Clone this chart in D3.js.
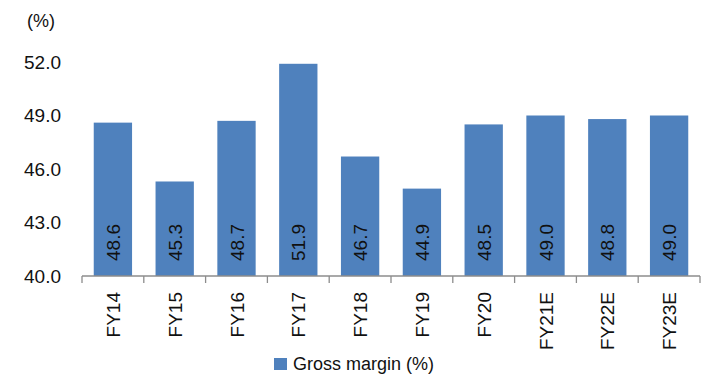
<!DOCTYPE html>
<html lang="en">
<head>
    <meta charset="UTF-8">
    <title>Gross margin</title>
    <script src="https://cdnjs.cloudflare.com/ajax/libs/d3/7.8.5/d3.min.js"></script>
    <style>
        body { margin: 0; background: #fff; }
        text { font-family: "Liberation Sans", Arial, sans-serif; fill: #111; }
    </style>
</head>
<body>
    <svg id="chart"></svg>
    <script>
        // Data
        const years = ["FY14", "FY15", "FY16", "FY17", "FY18", "FY19", "FY20", "FY21E", "FY22E", "FY23E"];
        const grossMargin = [48.6, 45.3, 48.7, 51.9, 46.7, 44.9, 48.5, 49.0, 48.8, 49.0];
        const yTicks = [40, 43, 46, 49, 52];
        const seriesName = "Gross margin (%)";

        const width = 711, height = 379;
        const margin = { left: 82, right: 11, top: 62, bottom: 103 };
        const barColor = "#4f81bd";

        const svg = d3.select("#chart").attr("width", width).attr("height", height);

        const x = d3.scaleBand()
            .domain(years)
            .range([margin.left, width - margin.right])
            .paddingInner(0.38)
            .paddingOuter(0.19);

        const y = d3.scaleLinear()
            .domain([40, 52])
            .range([height - margin.bottom, margin.top]);

        // Bars
        svg.append("g")
            .selectAll("rect")
            .data(grossMargin)
            .enter().append("rect")
            .attr("x", (d, i) => x(years[i]))
            .attr("y", d => y(d))
            .attr("width", x.bandwidth())
            .attr("height", d => y(40) - y(d))
            .attr("fill", barColor);

        // Value labels inside bars
        svg.append("g")
            .selectAll("text")
            .data(grossMargin)
            .enter().append("text")
            .attr("transform", (d, i) => `translate(${x(years[i]) + x.bandwidth() / 2 + 7},${y(40) - 15}) rotate(-90)`)
            .attr("font-size", 19)
            .text(d => d.toFixed(1));

        // X axis line and ticks at band boundaries
        const axisY = y(40);
        const x0 = margin.left, x1 = width - margin.right;
        const step = x.step();
        const ax = svg.append("g").attr("stroke", "#8c8c8c").attr("stroke-width", 1.3);
        ax.append("line").attr("x1", x0).attr("x2", x1).attr("y1", axisY).attr("y2", axisY);
        d3.range(years.length + 1).forEach(i => {
            const tx = x0 + i * step;
            ax.append("line").attr("x1", tx).attr("x2", tx).attr("y1", axisY).attr("y2", axisY + 7);
        });

        // X labels (rotated)
        svg.append("g")
            .selectAll("text")
            .data(years)
            .enter().append("text")
            .attr("transform", d => `translate(${x(d) + x.bandwidth() / 2 + 7},${axisY + 16}) rotate(-90)`)
            .attr("text-anchor", "end")
            .attr("font-size", 19)
            .text(d => d);

        // Y labels
        svg.append("g")
            .selectAll("text")
            .data(yTicks)
            .enter().append("text")
            .attr("x", 61)
            .attr("y", d => y(d))
            .attr("dy", "0.35em")
            .attr("text-anchor", "end")
            .attr("font-size", 19)
            .text(d => d.toFixed(1));

        svg.append("text")
            .attr("x", 27)
            .attr("y", 27)
            .attr("font-size", 18)
            .text("(%)");

        // Legend
        svg.append("rect")
            .attr("x", 274).attr("y", 358)
            .attr("width", 13).attr("height", 12)
            .attr("fill", barColor);
        svg.append("text")
            .attr("x", 293).attr("y", 370)
            .attr("font-size", 18)
            .text(seriesName);
    </script>
</body>
</html>
